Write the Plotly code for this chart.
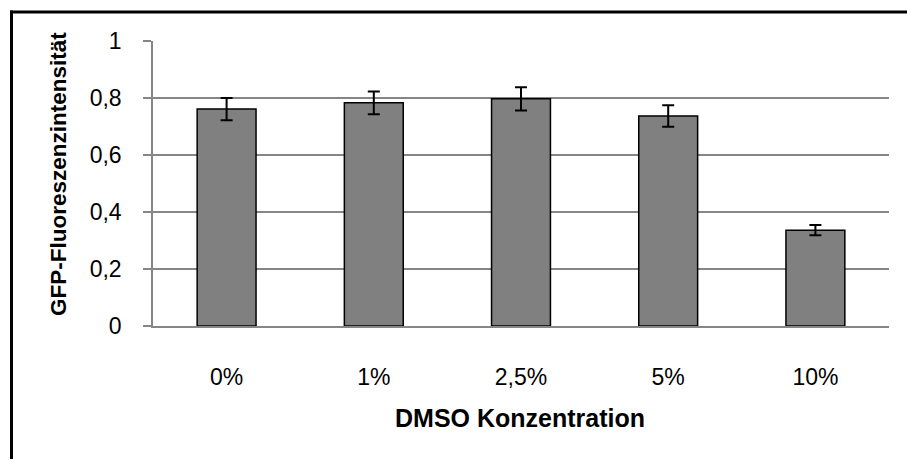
import plotly.graph_objects as go

categories = ["0%", "1%", "2,5%", "5%", "10%"]
values = [0.761, 0.783, 0.797, 0.737, 0.336]
errors = [0.039, 0.040, 0.041, 0.038, 0.018]
y_tickvals = [0, 0.2, 0.4, 0.6, 0.8, 1.0]
y_ticktext = ["0", "0,2", "0,4", "0,6", "0,8", "1"]
x_title = "DMSO Konzentration"
y_title = "GFP-Fluoreszenzintensität"

W, H = 907, 459
L, R, T, B = 153, 18, 41, 133
pw, ph = W - L - R, H - T - B


def px_x(p):
    return (p - L) / pw


def px_y(p):
    return (H - B - p) / ph


fig = go.Figure()
fig.add_trace(go.Bar(
    x=categories, y=values,
    marker=dict(color="#808080", line=dict(color="#000000", width=1.5)),
    error_y=dict(type="data", array=errors, visible=True, color="#000000",
                 thickness=2, width=6),
    width=0.4,
    hoverinfo="skip",
))

font = "Liberation Sans, Arial, sans-serif"
fig.update_layout(
    width=W, height=H,
    margin=dict(l=L, r=R, t=T, b=B),
    paper_bgcolor="white", plot_bgcolor="white",
    showlegend=False,
    font=dict(family=font, size=23, color="#000000"),
    xaxis=dict(
        showgrid=False, showline=True, linecolor="#868686", linewidth=1.5,
        ticks="", ticklabelstandoff=30,
        tickfont=dict(size=23, family=font, color="#000000"),
    ),
    yaxis=dict(
        range=[0, 1], tickvals=y_tickvals, ticktext=y_ticktext,
        showgrid=True, gridcolor="#868686", gridwidth=1.5,
        showline=True, linecolor="#868686", linewidth=1.5,
        ticks="outside", ticklen=8, tickcolor="#868686", tickwidth=1.5,
        ticklabelstandoff=17, zeroline=False,
        tickfont=dict(size=23, family=font, color="#000000"),
    ),
    annotations=[
        dict(text="<b>" + x_title + "</b>", xref="paper", yref="paper",
             x=px_x(520), y=px_y(418), xanchor="center", yanchor="middle",
             showarrow=False, font=dict(size=25, family=font, color="#000000")),
        dict(text="<b>" + y_title + "</b>", xref="paper", yref="paper",
             x=px_x(58), y=px_y(174), xanchor="center", yanchor="middle",
             textangle=-90, showarrow=False,
             font=dict(size=22.5, family=font, color="#000000")),
    ],
    shapes=[
        dict(type="line", xref="paper", yref="paper",
             x0=px_x(10), x1=px_x(907), y0=px_y(12), y1=px_y(12),
             line=dict(color="#000000", width=3)),
        dict(type="line", xref="paper", yref="paper",
             x0=px_x(11.5), x1=px_x(11.5), y0=px_y(10.5), y1=px_y(459),
             line=dict(color="#000000", width=3)),
    ],
)

fig.write_html("out.html",
               config={"displayModeBar": False},
               post_script="document.body.style.margin='0';document.body.style.overflow='hidden';")
